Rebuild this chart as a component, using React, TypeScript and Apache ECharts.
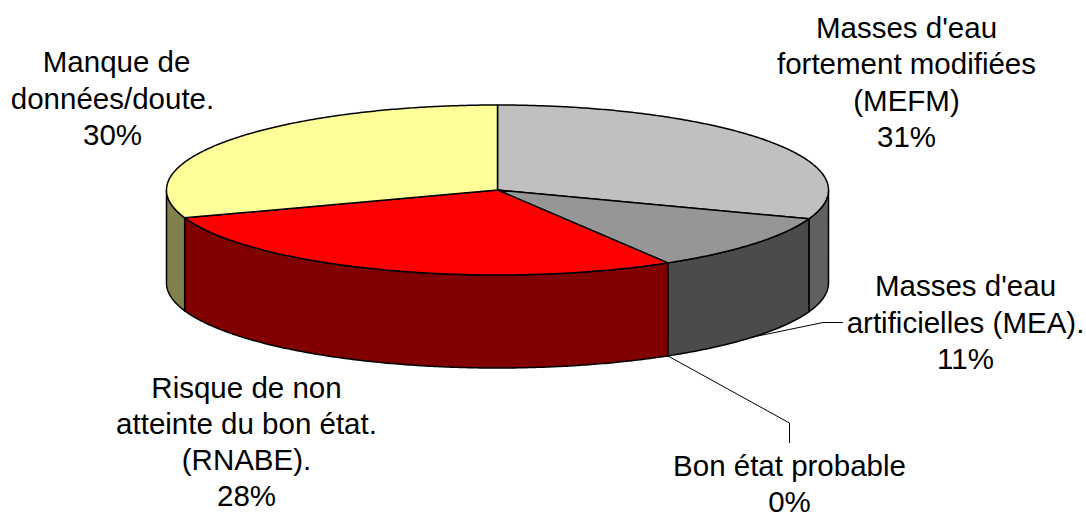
import React, { useEffect, useRef } from "react";
import * as echarts from "echarts";

const categories = [
  "Masses d'eau\nfortement modifiées\n(MEFM)",
  "Masses d'eau\nartificielles (MEA).",
  "Bon état probable",
  "Risque de non\natteinte du bon état.\n(RNABE).",
  " Manque de\ndonnées/doute.",
];
const values = [30.5, 10.9, 0, 28.3, 30.3];
const topColors = ["#C0C0C0", "#969696", "#FFFFFF", "#FF0000", "#FFFF99"];
const wallColors = ["#606060", "#4B4B4B", "#808080", "#800000", "#80804D"];
// label centre x, first-line centre y
const labelPos = [
  [906.5, 27.5],
  [965.5, 285.7],
  [789.5, 465.5],
  [246.5, 387],
  [112.5, 61.7],
];
// leader elbows (only labels placed away from the slice)
const leaderElbows: (number[][] | null)[] = [
  null,
  [[823, 322.5], [843, 322.5]],
  [[789.5, 423], [789.5, 443]],
  null,
  null,
];

const CX = 497.5, CY = 190, RX = 331, RY = 85, DEPTH = 93;
const FONT = 29.5, LINE_H = 36.3;
const total = values.reduce((a, b) => a + b, 0);

const pt = (deg: number, dy = 0) => {
  const r = (deg * Math.PI) / 180;
  return [CX + RX * Math.sin(r), CY + dy - RY * Math.cos(r)];
};
const arc = (a0: number, a1: number, dy = 0) => {
  const n = Math.max(1, Math.ceil(Math.abs(a1 - a0) * 2));
  const out: number[][] = [];
  for (let i = 0; i <= n; i++) out.push(pt(a0 + ((a1 - a0) * i) / n, dy));
  return out;
};

const renderItem = (params: any, api: any) => {
  const i = params.dataIndex;
  const v = api.value(0) as number;
  let before = 0;
  for (let k = 0; k < i; k++) before += values[k];
  const a0 = (before / total) * 360;
  const a1 = ((before + v) / total) * 360;
  const children: any[] = [];
  const stroke = { stroke: "#000", lineWidth: 1.5, lineJoin: "round" };
  const w0 = Math.max(a0, 90), w1 = Math.min(a1, 270);
  if (v > 0 && w1 > w0) {
    children.push({
      type: "polygon",
      shape: { points: [...arc(w0, w1), ...arc(w1, w0, DEPTH)] },
      style: { fill: wallColors[i], ...stroke },
    });
  }
  if (v > 0) {
    children.push({
      type: "polygon",
      shape: { points: [[CX, CY], ...arc(a0, a1)] },
      style: { fill: topColors[i], ...stroke },
    });
  }
  const elbows = leaderElbows[i];
  if (elbows) {
    children.push({
      type: "polyline",
      shape: { points: [pt((a0 + a1) / 2, DEPTH), ...elbows] },
      style: { stroke: "#000", lineWidth: 1, fill: "none" },
      z2: 5,
    });
  }
  const pct = Math.round((v / total) * 100);
  children.push({
    type: "text",
    style: {
      text: `${categories[i]}\n${pct}%`,
      x: labelPos[i][0],
      y: labelPos[i][1] - LINE_H / 2,
      align: "center",
      verticalAlign: "top",
      fontFamily: "Liberation Sans, Arial, sans-serif",
      fontSize: FONT,
      lineHeight: LINE_H,
      fill: "#000",
    },
    z2: 6,
  });
  return { type: "group", children };
};

export default function App() {
  const ref = useRef<HTMLDivElement>(null);
  useEffect(() => {
    const chart = echarts.init(ref.current!, undefined, { renderer: "svg" });
    chart.setOption({
      animation: false,
      backgroundColor: "#fff",
      series: [
        {
          type: "custom",
          coordinateSystem: "none",
          clip: false,
          renderItem,
          data: values.map((v) => [v]),
          silent: true,
        },
      ],
    });
    return () => chart.dispose();
  }, []);
  return (
    <div
      ref={ref}
      style={{ position: "fixed", left: 0, top: 0, width: 1086, height: 513 }}
    />
  );
}
